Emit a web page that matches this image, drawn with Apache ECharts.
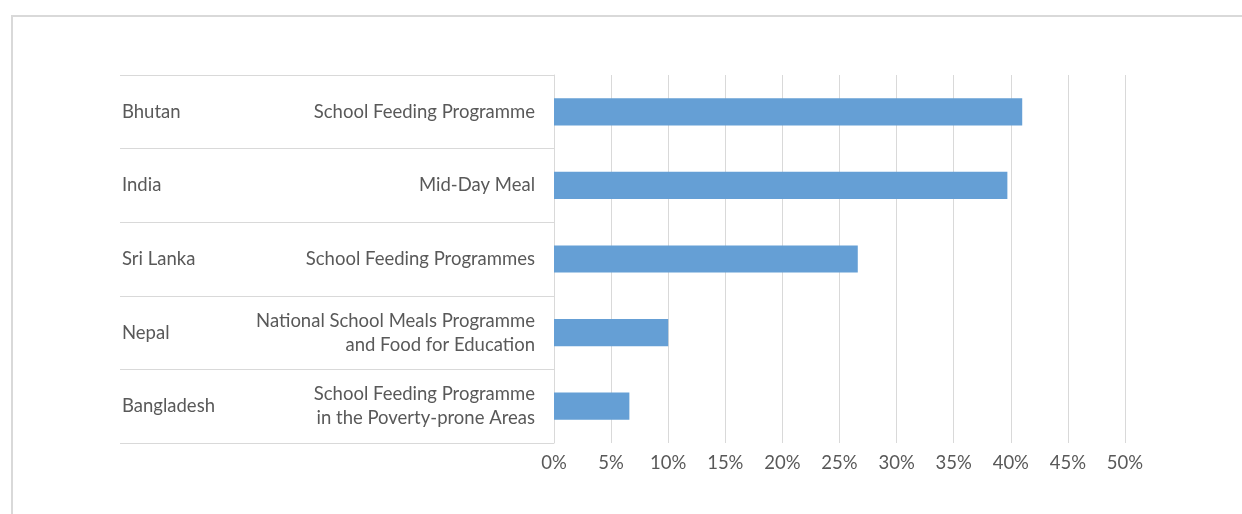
<!DOCTYPE html>
<html>
<head>
<meta charset="utf-8">
<script src="https://cdn.jsdelivr.net/npm/echarts@6/dist/echarts.min.js"></script>
<style>
  html, body { margin: 0; padding: 0; background: #fff; }
  #wrap { position: relative; width: 1242px; height: 514px; overflow: hidden; }
  #frame {
    position: absolute; left: 11px; top: 15px; width: 1300px; height: 600px;
    border-left: 2px solid #d9d9d9; border-top: 2px solid #d9d9d9;
  }
  #main { position: absolute; left: 0; top: 0; width: 1242px; height: 514px; }
</style>
</head>
<body>
<div id="wrap">
  <div id="frame"></div>
  <div id="main"></div>
</div>
<script>
// data (top to bottom)
var countries = ["Bhutan", "India", "Sri Lanka", "Nepal", "Bangladesh"];
var programmes = [
  "School Feeding Programme",
  "Mid-Day Meal",
  "School Feeding Programmes",
  "National School Meals Programme\nand Food for Education",
  "School Feeding Programme\nin the Poverty-prone Areas"
];
var shares = [41.0, 39.7, 26.6, 10.0, 6.6];

var textColor = "#595959";
var lineColor = "#d9d9d9";
var fontFam = "Lato, 'Open Sans', sans-serif";
var fs = 18.5;

var myChart = echarts.init(document.getElementById("main"));
myChart.setOption({
  animation: false,
  grid: {
    left: 554,
    right: 117,
    top: 75,
    bottom: 71
  },
  xAxis: {
    type: "value",
    min: 0,
    max: 50,
    interval: 5,
    axisLine: { show: false },
    axisTick: { show: false },
    splitLine: { lineStyle: { color: lineColor, width: 1 } },
    axisLabel: {
      formatter: "{value}%",
      color: textColor,
      fontSize: fs,
      fontFamily: fontFam,
      margin: 11
    }
  },
  yAxis: [
    {
      type: "category",
      data: programmes,
      inverse: true,
      axisLine: { show: true, lineStyle: { color: lineColor } },
      axisTick: { show: true, length: 434, lineStyle: { color: lineColor } },
      axisLabel: {
        color: textColor,
        fontSize: fs,
        fontFamily: fontFam,
        margin: 19,
        lineHeight: 24,
        align: "right"
      }
    },
    {
      type: "category",
      data: countries,
      inverse: true,
      position: "left",
      offset: 432,
      axisLine: { show: false },
      axisTick: { show: false },
      axisLabel: {
        color: textColor,
        fontSize: fs,
        fontFamily: fontFam,
        margin: 0,
        align: "left"
      }
    }
  ],
  series: [
    {
      type: "bar",
      data: shares,
      barWidth: "37%",
      itemStyle: { color: "#659fd5" }
    }
  ]
});
</script>
</body>
</html>
